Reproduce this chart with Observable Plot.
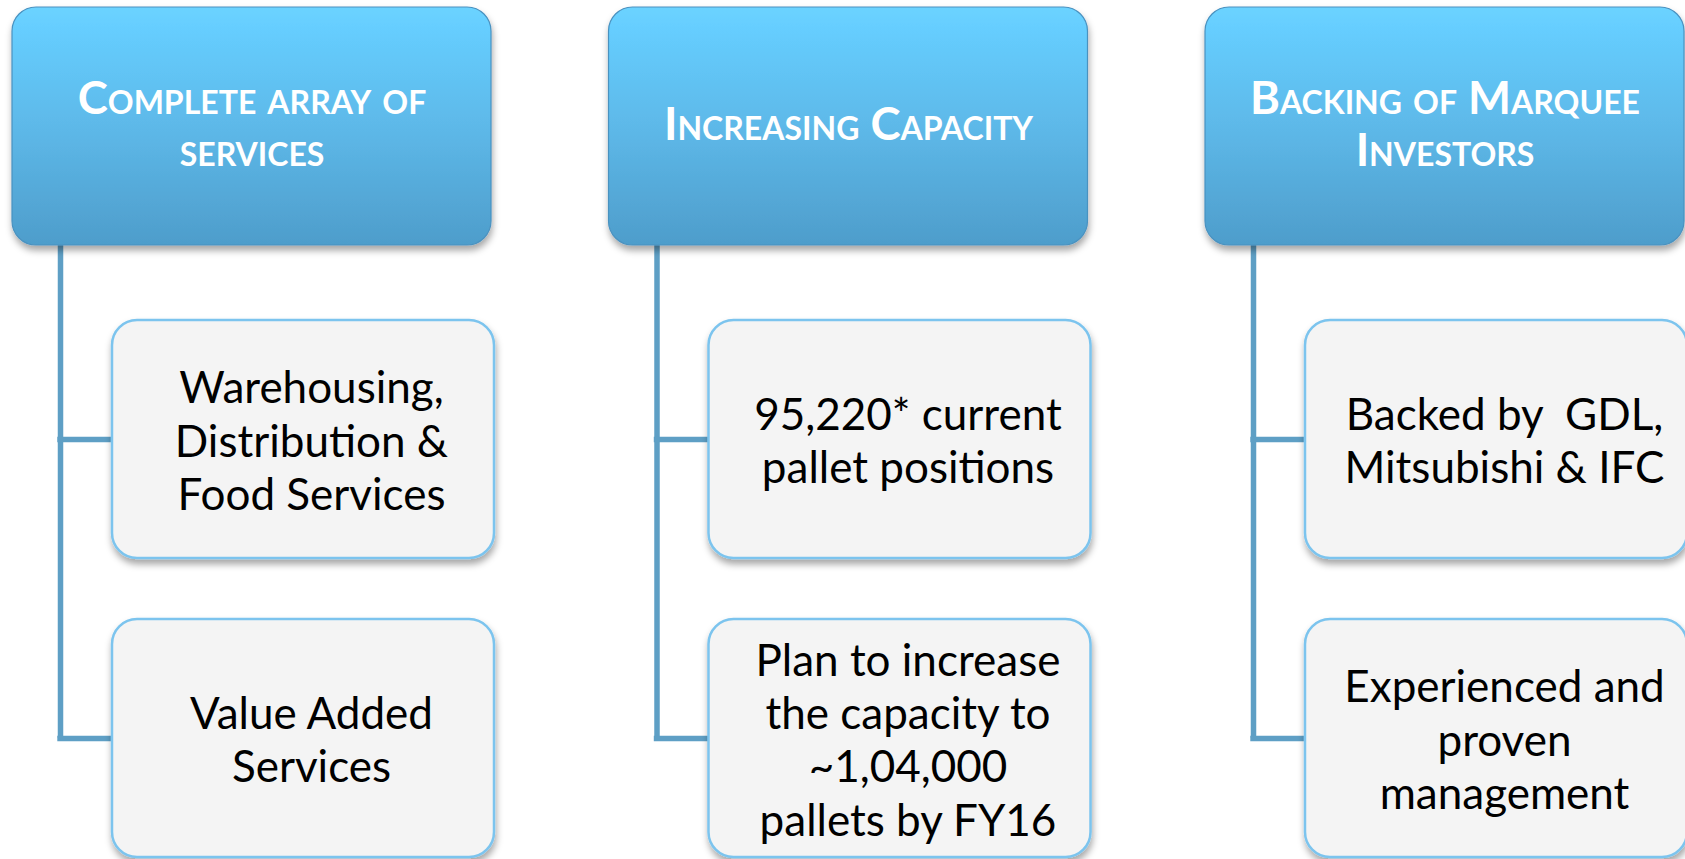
<!DOCTYPE html>
<html>
<head>
<meta charset="utf-8">
<script src="https://cdn.jsdelivr.net/npm/d3@7"></script>
<script src="https://cdn.jsdelivr.net/npm/@observablehq/plot@0.6"></script>
<style>
  html, body { margin: 0; padding: 0; background: #ffffff; }
  #chart svg text { white-space: pre; }
</style>
</head>
<body>
<div id="chart"></div>
<script>
// ---- Data ----
const columns = [0, 1, 2];
const headerTexts = [
  "Complete array of\nservices",
  "Increasing Capacity",
  "Backing of Marquee\nInvestors"
];
const itemRows = [0, 1];
const itemTexts = [
  ["Warehousing,\nDistribution &\nFood Services", "Value Added\nServices"],
  ["95,220* current\npallet positions", "Plan to increase\nthe capacity to\n~1,04,000\npallets by FY16"],
  ["Backed by  GDL,\nMitsubishi & IFC", "Experienced and\nproven\nmanagement"]
];

// ---- Layout (column units for x, pixel units for y) ----
const W = 1685, H = 859;
const step = 596.5, x0 = 12;
const u = px => px / step;            // pixel length -> column units
const headW = u(479), childOff = u(100), childW = u(382), connOff = u(48), textOff = u(8);
const headY = [7, 245];
const rowY = [[320, 558], [619, 857]];
const rowMid = r => (rowY[r][0] + rowY[r][1]) / 2;

const headers = columns.map(c => ({
  col: c, text: headerTexts[c],
  x1: c, x2: c + headW, y1: headY[0], y2: headY[1],
  cx: c + headW / 2, cy: (headY[0] + headY[1]) / 2 - 3.5
}));
const items = columns.flatMap(c => itemRows.map(r => ({
  col: c, row: r, text: itemTexts[c][r],
  x1: c + childOff, x2: c + childOff + childW, y1: rowY[r][0], y2: rowY[r][1],
  cx: c + childOff + childW / 2 + textOff, cy: rowMid(r)
})));
const verticals = columns.map(c => ({x: c + connOff, y1: headY[1] - 2, y2: rowMid(itemRows.length - 1)}));
const horizontals = items.map(d => ({x1: d.col + connOff - u(2.7), x2: d.x1 + u(3), y: d.cy}));

const plot = Plot.plot({
  width: W,
  height: H,
  margin: 0,
  x: {type: "linear", domain: [0, 3], range: [x0, x0 + 3 * step], axis: null},
  y: {type: "linear", domain: [0, H], range: [0, H], axis: null},
  style: {background: "#ffffff", overflow: "visible"},
  marks: [
    Plot.ruleX(verticals, {x: "x", y1: "y1", y2: "y2", stroke: "#5e9fc5", strokeWidth: 5.5}),
    Plot.ruleY(horizontals, {y: "y", x1: "x1", x2: "x2", stroke: "#5e9fc5", strokeWidth: 5.5}),
    Plot.rect(items, {x1: "x1", x2: "x2", y1: "y1", y2: "y2", rx: 25, fill: "#f4f4f4", stroke: "#7cc4ee", strokeWidth: 2.5}),
    Plot.rect(headers, {x1: "x1", x2: "x2", y1: "y1", y2: "y2", rx: 24, fill: "url(#hdrGrad)", stroke: "#4a92c0", strokeWidth: 1.2}),
    Plot.text(headers, {x: "cx", y: "cy", text: "text", fill: "#ffffff", fontSize: 45.5, fontWeight: "bold",
      fontVariant: "small-caps", fontFamily: "Lato", lineHeight: 52.7 / 45.5, lineAnchor: "middle"}),
    Plot.text(items, {x: "cx", y: "cy", text: "text", fill: "#000000", fontSize: 44, fontFamily: "Lato",
      lineHeight: 53.4 / 44, lineAnchor: "middle"})
  ]
});

// gradient + shadow definitions
const svg = d3.select(plot);
const defs = svg.insert("defs", ":first-child");
const g = defs.append("linearGradient").attr("id", "hdrGrad").attr("x1", 0).attr("y1", 0).attr("x2", 0).attr("y2", 1);
g.append("stop").attr("offset", "0%").attr("stop-color", "#6cd3ff");
g.append("stop").attr("offset", "8%").attr("stop-color", "#66ceff");
g.append("stop").attr("offset", "55%").attr("stop-color", "#5cb6e6");
g.append("stop").attr("offset", "100%").attr("stop-color", "#4e9dcb");
const f = defs.append("filter").attr("id", "shadow").attr("x", "-10%").attr("y", "-10%").attr("width", "120%").attr("height", "130%");
f.append("feDropShadow").attr("dx", 1).attr("dy", 5).attr("stdDeviation", 3.5).attr("flood-color", "#000").attr("flood-opacity", 0.35);
svg.selectAll('g[aria-label="rect"]').attr("filter", "url(#shadow)");

document.getElementById("chart").appendChild(plot);
</script>
</body>
</html>
